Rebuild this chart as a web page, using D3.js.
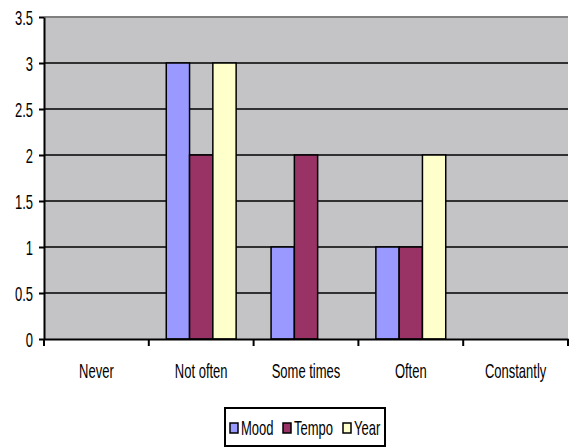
<!DOCTYPE html>
<html>
<head>
<meta charset="utf-8">
<script src="https://cdn.jsdelivr.net/npm/d3@7"></script>
<style>
  body { margin: 0; background: #fff; }
  svg text { font-family: "Liberation Sans", Arial, sans-serif; fill: #000; }
</style>
</head>
<body>
<div id="chart"></div>
<script>
const categories = ["Never", "Not often", "Some times", "Often", "Constantly"];
const seriesNames = ["Mood", "Tempo", "Year"];
const mood = [0, 3, 1, 1, 0];
const tempo = [0, 2, 2, 1, 0];
const year = [0, 3, 0, 2, 0];
const yTicks = [0, 0.5, 1, 1.5, 2, 2.5, 3, 3.5];
const colors = ["#9999FF", "#993366", "#FFFFCC"];

const W = 569, H = 448;
const margin = {top: 17, left: 44, right: 1, bottom: 109};
const width = W - margin.left - margin.right;
const height = H - margin.top - margin.bottom;
const sx = 0.65; // narrow font look

const svg = d3.select("#chart").append("svg")
  .attr("width", W).attr("height", H);
const g = svg.append("g").attr("transform", `translate(${margin.left},${margin.top})`);

const x = d3.scaleBand().domain(categories).range([0, width]);
const x1 = d3.scaleBand().domain(seriesNames).range([0, x.bandwidth()]).paddingInner(0).paddingOuter(0.75);
const y = d3.scaleLinear().domain([0, 3.5]).range([height, 0]);

// plot area
g.append("rect").attr("width", width).attr("height", height).attr("fill", "#C4C3C6");

// gridlines
g.selectAll(".grid").data(yTicks.filter(d => d > 0 && d < 3.5)).enter().append("line")
  .attr("x1", 0).attr("x2", width)
  .attr("y1", d => y(d)).attr("y2", d => y(d))
  .attr("stroke", "#000").attr("stroke-width", 1.5);
g.append("line").attr("x1", 0).attr("x2", width).attr("y1", y(3.5)).attr("y2", y(3.5))
  .attr("stroke", "#808080").attr("stroke-width", 2);

// bars
const data = categories.map((c, i) => ({cat: c, vals: [mood[i], tempo[i], year[i]]}));
const groups = g.selectAll(".grp").data(data).enter().append("g")
  .attr("transform", d => `translate(${x(d.cat)},0)`);
groups.selectAll("rect").data(d => d.vals.map((v, j) => ({name: seriesNames[j], v, j})).filter(d => d.v > 0))
  .enter().append("rect")
  .attr("x", d => x1(d.name))
  .attr("width", x1.bandwidth())
  .attr("y", d => y(d.v))
  .attr("height", d => y(0) - y(d.v))
  .attr("fill", d => colors[d.j])
  .attr("stroke", "#000").attr("stroke-width", 1.5);

// y axis
const yAxis = g.append("g")
  .call(d3.axisLeft(y).tickValues(yTicks).tickFormat(d3.format("")).tickSize(5).tickSizeOuter(0));
yAxis.select(".domain").attr("stroke", "#000").attr("stroke-width", 2);
yAxis.selectAll(".tick line").attr("stroke", "#000").attr("stroke-width", 2);
yAxis.selectAll(".tick text").attr("font-size", 20).attr("x", -11 / sx).attr("dy", "0.36em")
  .attr("transform", `scale(${sx},1)`);

// x axis
const xAxis = g.append("g").attr("transform", `translate(0,${height})`)
  .call(d3.axisBottom(x).tickSize(0).tickSizeOuter(0));
xAxis.select(".domain").attr("stroke", "#000").attr("stroke-width", 2);
xAxis.selectAll(".tick text").attr("font-size", 20).attr("y", 39).attr("dy", 0)
  .attr("transform", `scale(${sx},1)`);
const bounds = d3.range(categories.length + 1).map(i => i * x.step());
xAxis.selectAll(".sep").data(bounds).enter().append("line")
  .attr("x1", d => d).attr("x2", d => d).attr("y1", 0).attr("y2", 7)
  .attr("stroke", "#000").attr("stroke-width", 2);

// legend
const legend = svg.append("g").attr("transform", "translate(225,408)");
legend.append("rect").attr("width", 160).attr("height", 38)
  .attr("fill", "#fff").attr("stroke", "#000").attr("stroke-width", 2);
const swatchX = [5, 58, 118];
seriesNames.forEach((n, i) => {
  const it = legend.append("g").attr("transform", `translate(${swatchX[i]},0)`);
  it.append("rect").attr("x", 0).attr("y", 15).attr("width", 8).attr("height", 10)
    .attr("fill", colors[i]).attr("stroke", "#000").attr("stroke-width", 1.5);
  it.append("text").attr("transform", `translate(11,27) scale(${sx},1)`)
    .attr("font-size", 20).text(n);
});
</script>
</body>
</html>
